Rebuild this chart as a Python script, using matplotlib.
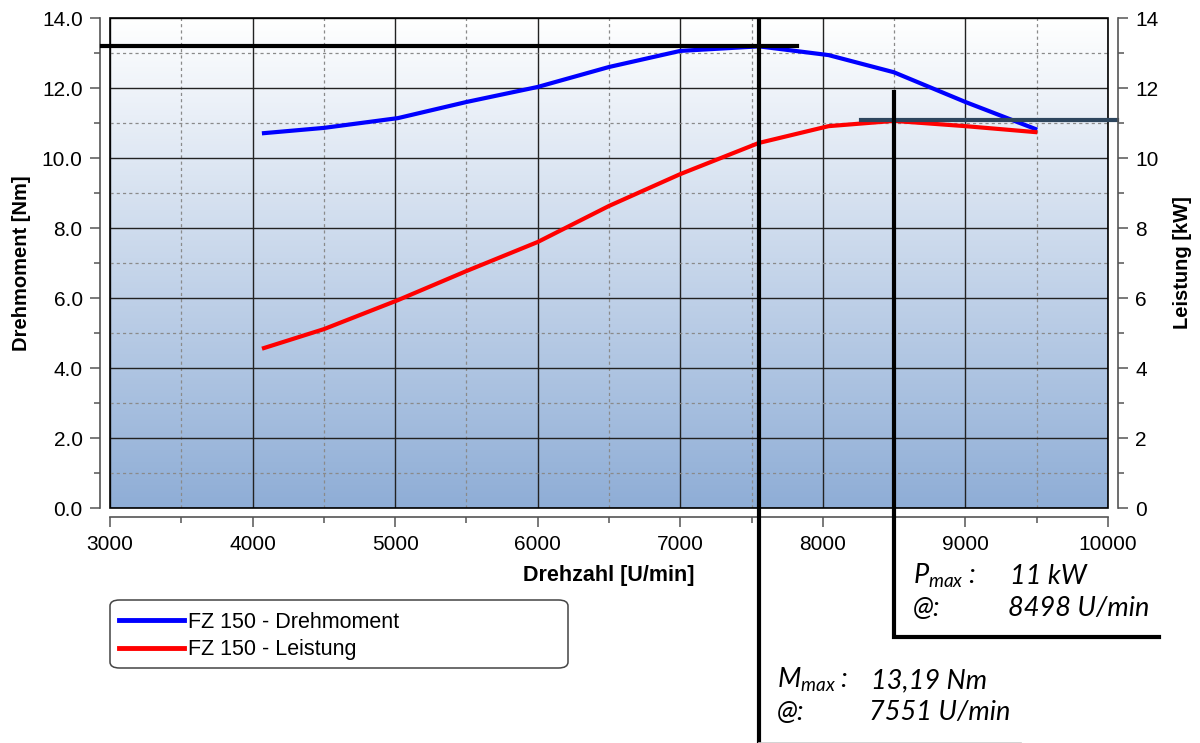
import numpy as np
import matplotlib
matplotlib.use("Agg")
import matplotlib.pyplot as plt
from matplotlib.ticker import MultipleLocator, FormatStrFormatter
from matplotlib.patches import FancyBboxPatch, Rectangle
from matplotlib.lines import Line2D

# Messdaten FZ 150
drehzahl = [4080, 4500, 5020, 5500, 6000, 6500, 7000, 7551, 8040, 8498, 9000, 9490]
drehmoment = [10.71, 10.86, 11.14, 11.60, 12.03, 12.60, 13.06, 13.19, 12.94, 12.45, 11.60, 10.83]
leistung = [4.57, 5.11, 5.94, 6.77, 7.60, 8.63, 9.54, 10.43, 10.91, 11.06, 10.91, 10.74]

m_max = 13.19
n_m_max = 7551
p_max = 11.08
n_p_max = 8498

labels = ["FZ 150 - Drehmoment", "FZ 150 - Leistung"]

plt.rcParams['font.family'] = ['Liberation Sans', 'DejaVu Sans']
plt.rcParams['mathtext.fontset'] = 'custom'
plt.rcParams['mathtext.rm'] = 'Lato:italic'
plt.rcParams['mathtext.it'] = 'Lato:italic'

W, H = 1200, 743
fig = plt.figure(figsize=(W / 100, H / 100), dpi=100)
ax = fig.add_axes([110 / W, 1 - 508 / H, 998 / W, 490 / H])

# Hintergrund-Verlauf (oben weiss, unten blau)
grad = np.linspace(0, 1, 256).reshape(-1, 1)
top = np.array([1.0, 1.0, 1.0])
bot = np.array([0.56, 0.68, 0.84])
img = top + (bot - top) * grad[:, :, None] * np.ones((1, 1, 3))
ax.imshow(img, extent=[3000, 10000, 0, 14], origin='upper', aspect='auto', zorder=0)
ax.set_xlim(3000, 10000)
ax.set_ylim(0, 14)

# Gitter
ax.xaxis.set_major_locator(MultipleLocator(1000))
ax.xaxis.set_minor_locator(MultipleLocator(500))
ax.yaxis.set_major_locator(MultipleLocator(2))
ax.yaxis.set_minor_locator(MultipleLocator(1))
ax.yaxis.set_major_formatter(FormatStrFormatter('%.1f'))
ax.grid(which='major', color='#222222', lw=1.0, ls='-', zorder=1)
ax.grid(which='minor', color='#8a8a8a', lw=0.9, ls=(0, (2.5, 2.5)), zorder=1)
ax.set_axisbelow(True)

for s in ['top', 'right']:
    ax.spines[s].set_visible(False)
ax.spines['left'].set_position(('outward', 7.2))
ax.spines['bottom'].set_position(('outward', 6.8))
for s in ['left', 'bottom']:
    ax.spines[s].set_color('#555555')
    ax.spines[s].set_linewidth(1.2)
ax.tick_params(which='major', length=7.5, width=1.1, color='#555555', labelsize=15, pad=5)
ax.tick_params(which='minor', length=4, width=1.1, color='#555555')

ax.add_patch(Rectangle((0, 0), 1, 1, transform=ax.transAxes, fill=False,
                       ec='black', lw=1.2, zorder=5, clip_on=False))

ax.plot(drehzahl, drehmoment, color='#0000ff', lw=3, zorder=3, label=labels[0])
ax.plot(drehzahl, leistung, color='#ff0000', lw=3, zorder=3, label=labels[1])

ax2 = ax.twinx()
ax2.set_ylim(0, 14)
ax2.yaxis.set_major_locator(MultipleLocator(2))
ax2.yaxis.set_minor_locator(MultipleLocator(1))
for s in ['top', 'left', 'bottom']:
    ax2.spines[s].set_visible(False)
ax2.spines['right'].set_position(('outward', 7.2))
ax2.spines['right'].set_color('#555555')
ax2.spines['right'].set_linewidth(1.2)
ax2.tick_params(which='major', length=7.5, width=1.1, color='#555555', labelsize=15, pad=5)
ax2.tick_params(which='minor', length=4, width=1.1, color='#555555')

ax.set_xlabel('Drehzahl [U/min]', fontsize=15.5, fontweight='bold', labelpad=8)
ax.set_ylabel('Drehmoment [Nm]', fontsize=14.5, fontweight='bold', labelpad=8)
ax2.set_ylabel('Leistung [kW]', fontsize=14.5, fontweight='bold', labelpad=10)

# Markierungslinien M_max
ax.plot([2944, 7819], [m_max, m_max], color='black', lw=3, zorder=6, clip_on=False)
ax.plot([n_m_max, n_m_max], [13.94, -7], color='black', lw=3, zorder=6, clip_on=False)
# Markierungslinien P_max
ax.plot([8268, 10063], [p_max, p_max], color='#2e465e', lw=3, zorder=6, clip_on=False)
ax.plot([n_p_max, n_p_max, 10360], [11.89, -3.69, -3.69], color='black', lw=3,
        zorder=6, clip_on=False, solid_joinstyle='miter')

def px(x, y):
    return x / W, 1 - y / H

tkw = dict(fontsize=19.5, fontstyle='italic', family='Lato', va='baseline')
fig.text(*px(913, 584), r'$P_{max}$ :', **tkw)
fig.text(*px(1010, 584), '11 kW', **tkw)
fig.text(*px(913, 616), '@:', **tkw)
fig.text(*px(1008, 616), f'{n_p_max} U/min', **tkw)
fig.text(*px(777, 688), r'$M_{max}$ :', **tkw)
fig.text(*px(871, 688), f'{m_max:.2f}'.replace('.', ',') + ' Nm', **tkw)
fig.text(*px(777, 720), '@:', **tkw)
fig.text(*px(869, 720), f'{n_m_max} U/min', **tkw)

fig.add_artist(Line2D([759 / W, 1021 / W], [0.5 / H, 0.5 / H], color='#cccccc', lw=1.2))

# Legende
box = FancyBboxPatch(px(110, 668), 458 / W, 68 / H, boxstyle='round,pad=0,rounding_size=0.008',
                     transform=fig.transFigure, fc='white', ec='#444444', lw=1.1)
fig.add_artist(box)
handles = [Line2D([], [], color='#0000ff', lw=3.5), Line2D([], [], color='#ff0000', lw=3.5)]
fig.legend(handles, labels, loc='upper left', bbox_to_anchor=px(119, 612), frameon=False,
           fontsize=15.5, handlelength=3.0, handletextpad=0.2, labelspacing=0.3,
           borderpad=0, borderaxespad=0)

fig.savefig('out.png', dpi=100)
